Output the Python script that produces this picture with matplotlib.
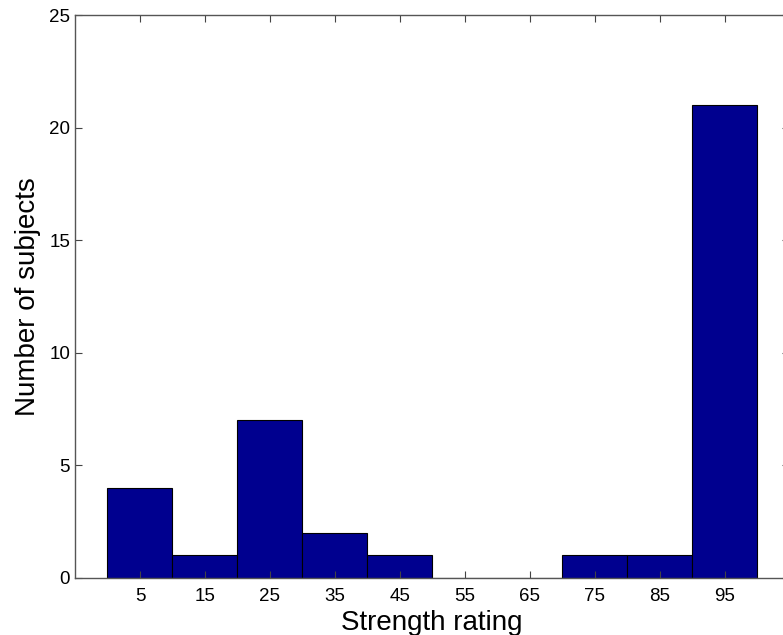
import matplotlib
matplotlib.use("Agg")
import matplotlib.pyplot as plt

bin_centers = [5, 15, 25, 35, 45, 55, 65, 75, 85, 95]
counts = [4, 1, 7, 2, 1, 0, 0, 1, 1, 21]
xtick_labels = [str(c) for c in bin_centers]
yticks = [0, 5, 10, 15, 20, 25]

plt.rcParams['font.family'] = ['Liberation Sans', 'DejaVu Sans']

fig = plt.figure(figsize=(7.83, 6.35), dpi=100)
ax = fig.add_axes([75/783, 57/635, (789.5-75)/783, 563/635])

ax.bar(bin_centers, counts, width=10, color='#00008f', edgecolor='black', linewidth=0.8)

ax.set_xlim(-5, 105)
ax.set_ylim(0, 25)
ax.set_xticks(bin_centers)
ax.set_xticklabels(xtick_labels)
ax.set_yticks(yticks)

ax.tick_params(direction='in', length=5, width=0.8, colors='#444444',
               labelcolor='black', labelsize=13.5, top=True, right=True)
ax.tick_params(axis='x', pad=7)
ax.tick_params(axis='y', pad=3.5)
for s in ax.spines.values():
    s.set_color('#555555')
    s.set_linewidth(1.0)

ax.set_xlabel('Strength rating', fontsize=20, labelpad=4)
ax.set_ylabel('Number of subjects', fontsize=20, labelpad=6)

fig.savefig('out.png', dpi=100)
